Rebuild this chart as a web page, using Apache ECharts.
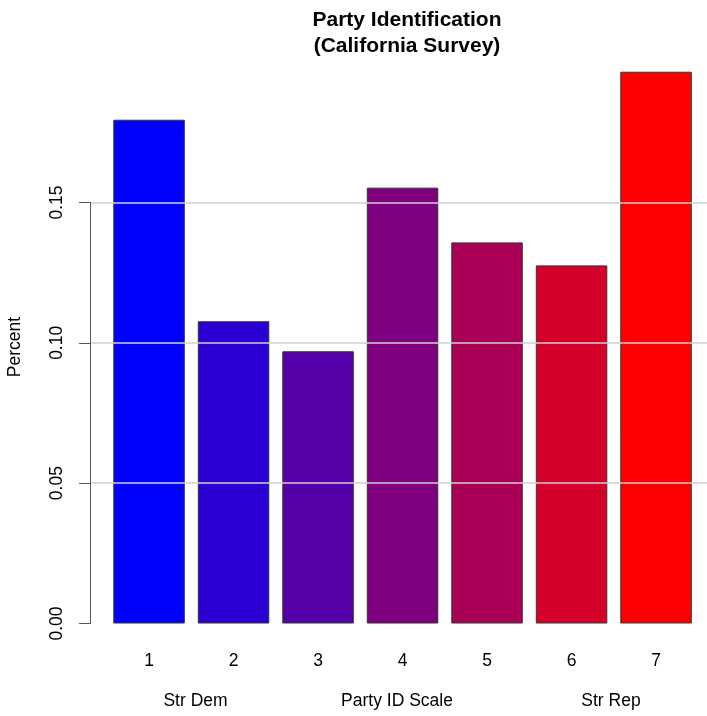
<!DOCTYPE html>
<html>
<head>
<meta charset="utf-8">
<script src="https://cdn.jsdelivr.net/npm/echarts@6/dist/echarts.min.js"></script>
<style>
html,body{margin:0;padding:0;background:#fff;}
#chart{width:707px;height:716px;}
</style>
</head>
<body>
<div id="chart"></div>
<script>
var categories = ['1', '2', '3', '4', '5', '6', '7'];
var values = [0.1795, 0.1077, 0.0970, 0.1553, 0.1358, 0.1276, 0.1966];
var yTicks = [0, 0.05, 0.10, 0.15];
var barColors = ['#0000FF', '#2A00D4', '#5500AA', '#7F007F', '#AA0055', '#D4002A', '#FF0000'];
var titleText = 'Party Identification\n(California Survey)';
var yLabel = 'Percent';
var xLabel = 'Party ID Scale';
var leftNote = 'Str Dem';
var rightNote = 'Str Rep';

var FONT = 'Liberation Sans, Arial, Helvetica, sans-serif';
var chart = echarts.init(document.getElementById('chart'), null, {renderer: 'canvas'});

var option = {
  backgroundColor: '#ffffff',
  animation: false,
  title: {
    text: titleText,
    left: 402,
    top: 2,
    textAlign: 'center',
    textStyle: {fontFamily: FONT, fontSize: 21, fontWeight: 'bold', color: '#000', lineHeight: 26}
  },
  grid: [
    {left: 106.8, right: 8.7, top: 62.2, bottom: 92.5},
    {left: 90, right: 0, top: 202.5, bottom: 92.5}
  ],
  xAxis: [
    {
      type: 'category', gridIndex: 0, data: categories,
      axisLine: {show: false}, axisTick: {show: false},
      axisLabel: {fontFamily: FONT, fontSize: 17.5, color: '#000', margin: 28.5}
    },
    {type: 'value', gridIndex: 1, show: false, min: 0, max: 1}
  ],
  yAxis: [
    {type: 'value', gridIndex: 0, min: 0, max: 0.2, show: false, splitLine: {show: false}},
    {
      type: 'value', gridIndex: 1, min: yTicks[0], max: yTicks[yTicks.length - 1], interval: 0.05,
      z: 10,
      axisLine: {show: true, lineStyle: {color: '#555', width: 1}},
      axisTick: {show: true, length: 11, lineStyle: {color: '#555', width: 1}},
      axisLabel: {
        rotate: 90, margin: 24, fontFamily: FONT, fontSize: 17.5, color: '#000',
        formatter: function (v) { return v.toFixed(2); }
      },
      splitLine: {show: true, lineStyle: {color: ['rgba(0,0,0,0)', '#d0d0d0', '#d0d0d0', '#d0d0d0'], width: 1.5}}
    }
  ],
  series: [{
    type: 'bar',
    xAxisIndex: 0, yAxisIndex: 0,
    barWidth: 71.5,
    data: values.map(function (v, i) {
      return {value: v, itemStyle: {color: barColors[i]}};
    }),
    itemStyle: {borderColor: '#333', borderWidth: 1}
  }],
  graphic: [
    {type: 'text', x: 15.5, y: 347, rotation: Math.PI / 2,
      style: {text: yLabel, font: '17.5px ' + FONT, fill: '#000', textAlign: 'center', textVerticalAlign: 'middle'}},
    {type: 'text', x: 195.5, y: 701,
      style: {text: leftNote, font: '17.5px ' + FONT, fill: '#000', textAlign: 'center', textVerticalAlign: 'middle'}},
    {type: 'text', x: 397, y: 701,
      style: {text: xLabel, font: '17.5px ' + FONT, fill: '#000', textAlign: 'center', textVerticalAlign: 'middle'}},
    {type: 'text', x: 611, y: 701,
      style: {text: rightNote, font: '17.5px ' + FONT, fill: '#000', textAlign: 'center', textVerticalAlign: 'middle'}}
  ]
};
chart.setOption(option);
</script>
</body>
</html>
